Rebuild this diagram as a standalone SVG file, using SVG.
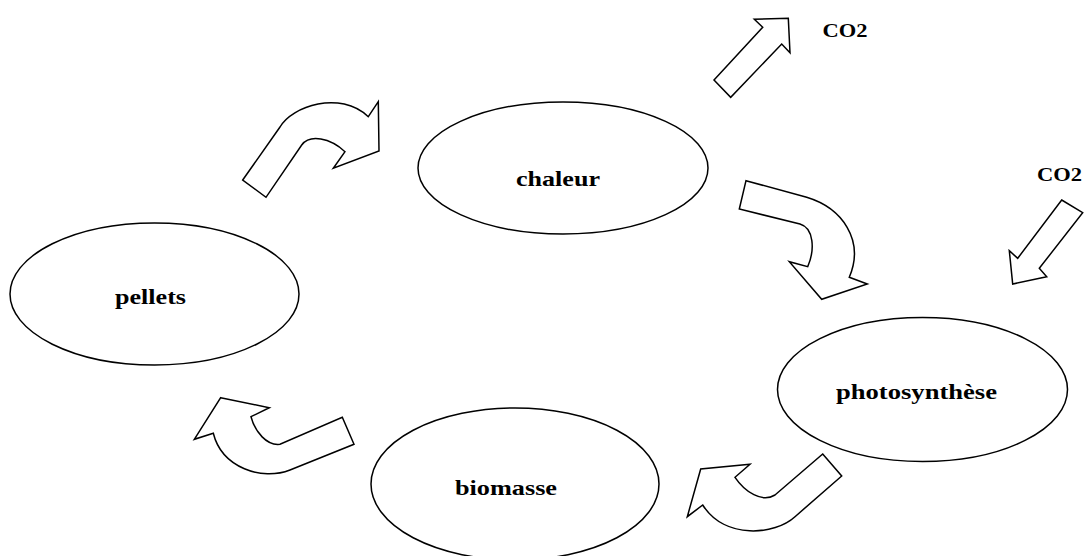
<svg xmlns="http://www.w3.org/2000/svg" width="1088" height="556" viewBox="0 0 1088 556">
<style>
.node ellipse{fill:#fff;stroke:#000;stroke-width:1.5}
.lbl{font-family:"Liberation Serif","Times New Roman",serif;font-weight:bold;font-size:21px;fill:#000}
.co2{font-family:"Liberation Serif","Times New Roman",serif;font-weight:bold;font-size:19px;fill:#000}
.arr path{fill:#fff;stroke:#000;stroke-width:1.5;stroke-linejoin:miter}
</style>
<rect width="1088" height="556" fill="#fff"/>
<g id="chaleur" class="node">
<ellipse cx="563" cy="168" rx="145" ry="66"/>
<text class="lbl" x="516" y="186" textLength="84" lengthAdjust="spacingAndGlyphs">chaleur</text>
</g>
<g id="pellets" class="node">
<ellipse cx="154.5" cy="294" rx="144.5" ry="71"/>
<text class="lbl" x="115" y="304" textLength="71" lengthAdjust="spacingAndGlyphs">pellets</text>
</g>
<g id="photosynthese" class="node">
<ellipse cx="922.5" cy="389.5" rx="145" ry="72"/>
<text class="lbl" x="836" y="399" textLength="161" lengthAdjust="spacingAndGlyphs">photosynthèse</text>
</g>
<g id="biomasse" class="node">
<ellipse cx="515" cy="484" rx="144" ry="76"/>
<text class="lbl" x="455" y="495" textLength="102" lengthAdjust="spacingAndGlyphs">biomasse</text>
</g>
<g id="co2-out">
<text class="co2" x="822.5" y="36.5" textLength="45" lengthAdjust="spacingAndGlyphs">CO2</text>
</g>
<g id="co2-in">
<text class="co2" x="1037" y="180.5" textLength="45" lengthAdjust="spacingAndGlyphs">CO2</text>
</g>
<g id="connectors" class="arr">
<path d="M242.7,180 L280,127 C292,106 340,90 368.3,116.7 L378.3,101.7 L379,151 L333.3,168.3 L345,151.7 C330,138 310,134 301.7,145 L266,197.3 Z"/>
<path d="M746,180.7 L806.7,197.3 C842,208 865,240 849.3,277.3 L867.3,284 L821.7,299.3 L789.3,261.7 L807.7,266.7 C815,250 814,228 800,224 L739.3,209 Z"/>
<path d="M714,80 L762.7,27.3 L754.3,19.3 L788.3,18.3 L790,52.7 L781.7,44 L730.7,97.3 Z"/>
<path d="M1061.7,200 L1082.7,212.7 L1039.3,268.3 L1046.7,276.7 L1012.7,284 L1009.3,250.7 L1017.7,258.3 Z"/>
<path d="M220.7,397.7 L269.3,407.7 L251,416.7 C255,432 267,446 280,444.3 L342.3,417.3 L354,444.3 L290,470 C262,481 222,468 213.3,433.3 L194.3,439.3 Z"/>
<path d="M822.7,454 L841.7,476 L795,516.7 C775,535 725,540 702.7,505 L687.3,516.7 L700.7,469 L750,464.3 L735,477.3 C745,492 762,503 775,495 Z"/>
</g>
</svg>
